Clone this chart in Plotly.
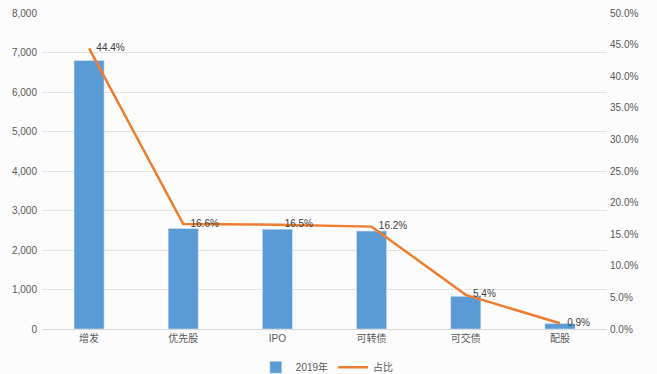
import plotly.graph_objects as go
from plotly.subplots import make_subplots

categories = ["增发", "优先股", "IPO", "可转债", "可交债", "配股"]
amount_2019 = [6800, 2545, 2527, 2480, 827, 138]
share = [0.444, 0.166, 0.165, 0.162, 0.054, 0.009]
share_labels = ["44.4%", "16.6%", "16.5%", "16.2%", "5.4%", "0.9%"]

FONT = "Liberation Sans, Arial, Noto Sans CJK SC"

fig = make_subplots(specs=[[{"secondary_y": True}]])
fig.add_trace(go.Bar(x=categories, y=amount_2019, name="2019年",
                     marker_color="#5B9BD5", width=0.32), secondary_y=False)
fig.add_trace(go.Scatter(x=categories, y=share, name="占比", mode="lines+markers+text",
                         text=share_labels, textposition="middle right",
                         textfont=dict(size=10, color="#404040", family=FONT),
                         line=dict(color="#ED7D31", width=2.5),
                         marker=dict(size=10, color="rgba(0,0,0,0)",
                                     line=dict(width=0, color="rgba(0,0,0,0)")),
                         cliponaxis=False), secondary_y=True)

fig.update_layout(
    width=657, height=374,
    margin=dict(l=42, r=50, t=13, b=45, autoexpand=False),
    paper_bgcolor="#fcfcfc", plot_bgcolor="#fcfcfc",
    font=dict(family=FONT, size=10, color="#595959"),
    showlegend=True,
    legend=dict(orientation="h", x=0.505, xanchor="center", y=-0.075, yanchor="top",
                font=dict(size=10, color="#595959"), itemwidth=30,
                traceorder="normal"),
)
fig.update_xaxes(domain=[0, 1], showgrid=False, showline=True, linecolor="#d9d9d9",
                 linewidth=1, ticks="", automargin=False,
                 tickfont=dict(size=10, color="#595959"))
fig.update_yaxes(range=[0, 8000], dtick=1000, tickformat=",", showgrid=True,
                 gridcolor="#e3e3e3", gridwidth=1, zeroline=False, showline=False,
                 automargin=False, ticklabelstandoff=4,
                 tickfont=dict(size=10, color="#595959"), secondary_y=False)
fig.update_yaxes(range=[0, 0.5], dtick=0.05, tickformat=".1%", showgrid=False,
                 zeroline=False, showline=False, automargin=False, ticklabelstandoff=2,
                 tickfont=dict(size=10, color="#595959"), secondary_y=True)

fig.write_html("out.html", config={"displayModeBar": False},
               post_script="document.body.style.margin='0px';")
